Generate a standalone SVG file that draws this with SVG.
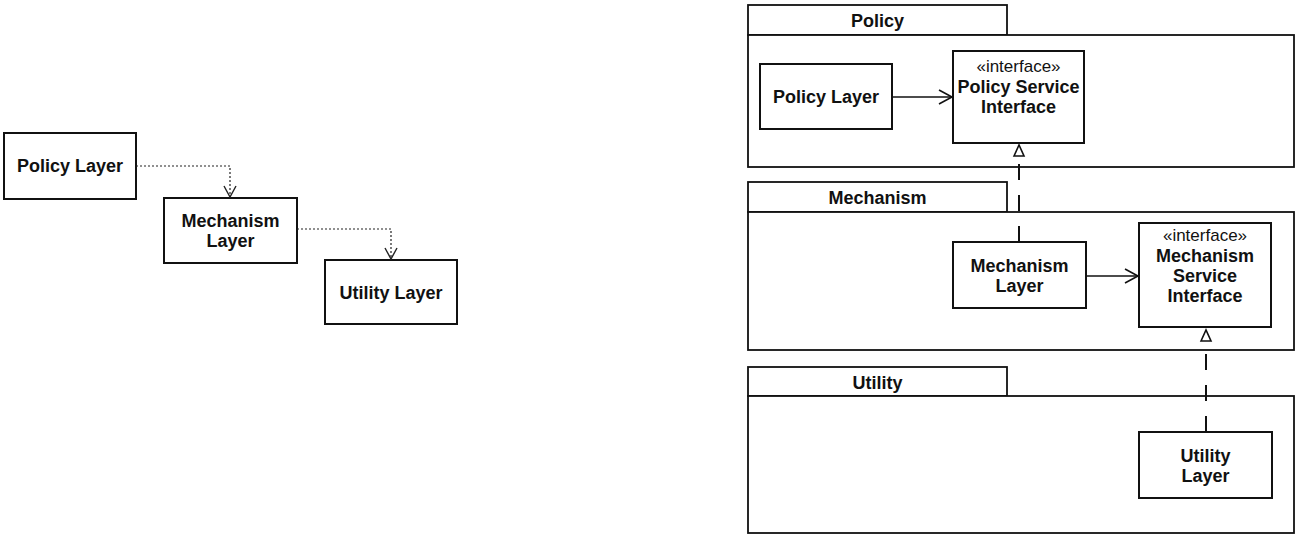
<svg xmlns="http://www.w3.org/2000/svg" width="1302" height="538" viewBox="0 0 1302 538">
<style>
  .box { fill: #fff; stroke: #111; stroke-width: 2; }
  .pkg { fill: #fff; stroke: #111; stroke-width: 1.8; }
  .t { font-family: "Liberation Sans", Arial, Helvetica, sans-serif; font-size: 18px; font-weight: bold; fill: #111; text-anchor: middle; }
  .st { font-family: "Liberation Sans", Arial, Helvetica, sans-serif; font-size: 17px; font-weight: normal; fill: #111; text-anchor: middle; }
  .dot { fill: none; stroke: #222; stroke-width: 1.2; stroke-dasharray: 2 2; }
  .solid { fill: none; stroke: #111; stroke-width: 1.6; }
  .dash { fill: none; stroke: #111; stroke-width: 2; stroke-dasharray: 16 15; }
</style>
<defs>
  <marker id="openV" markerUnits="userSpaceOnUse" viewBox="-12 -7 14 14" refX="0" refY="0" markerWidth="14" markerHeight="14" orient="auto">
    <path d="M-11,-6 L0,0 L-11,6" fill="none" stroke="#222" stroke-width="1.4"/>
  </marker>
  <marker id="openVs" markerUnits="userSpaceOnUse" viewBox="-14 -8 16 16" refX="0" refY="0" markerWidth="16" markerHeight="16" orient="auto">
    <path d="M-13,-7 L0,0 L-13,7" fill="none" stroke="#111" stroke-width="1.6"/>
  </marker>
  <marker id="tri" markerUnits="userSpaceOnUse" viewBox="-2 -7 16 14" refX="0" refY="0" markerWidth="16" markerHeight="14" orient="auto">
    <path d="M0,-5 L11,0 L0,5 Z" fill="#fff" stroke="#111" stroke-width="1.6"/>
  </marker>
</defs>
<rect width="1302" height="538" fill="#fff"/>

<!-- Left diagram -->
<g id="left-policy-layer">
  <rect class="box" x="4" y="133" width="132" height="66"/>
  <text class="t" x="70" y="172">Policy Layer</text>
</g>
<g id="left-mechanism-layer">
  <rect class="box" x="164" y="198" width="133" height="65"/>
  <text class="t" x="230.5" y="227">Mechanism</text>
  <text class="t" x="230.5" y="247">Layer</text>
</g>
<g id="left-utility-layer">
  <rect class="box" x="325" y="260" width="132" height="64"/>
  <text class="t" x="391" y="299">Utility Layer</text>
</g>

<!-- Right diagram: packages -->
<g id="pkg-policy">
  <rect class="pkg" x="748" y="5" width="259" height="30"/>
  <rect class="pkg" x="748" y="35" width="546" height="132"/>
  <text class="t" x="877.5" y="27">Policy</text>
</g>
<g id="pkg-mechanism">
  <rect class="pkg" x="748" y="182" width="259" height="30"/>
  <rect class="pkg" x="748" y="212" width="546" height="138"/>
  <text class="t" x="877.5" y="204">Mechanism</text>
</g>
<g id="pkg-utility">
  <rect class="pkg" x="748" y="367" width="259" height="29"/>
  <rect class="pkg" x="748" y="396" width="546" height="137"/>
  <text class="t" x="877.5" y="389">Utility</text>
</g>

<!-- Right diagram: classes -->
<g id="policy-layer">
  <rect class="box" x="760" y="64" width="132" height="65"/>
  <text class="t" x="826" y="103">Policy Layer</text>
</g>
<g id="policy-service-interface">
  <rect class="box" x="953" y="51" width="131" height="92"/>
  <text class="st" x="1018.5" y="72">«interface»</text>
  <text class="t" x="1018.5" y="93">Policy Service</text>
  <text class="t" x="1018.5" y="113">Interface</text>
</g>
<g id="mechanism-layer">
  <rect class="box" x="953" y="242" width="133" height="66"/>
  <text class="t" x="1019.5" y="272">Mechanism</text>
  <text class="t" x="1019.5" y="292">Layer</text>
</g>
<g id="mechanism-service-interface">
  <rect class="box" x="1139" y="223" width="132" height="104"/>
  <text class="st" x="1205" y="241">«interface»</text>
  <text class="t" x="1205" y="262">Mechanism</text>
  <text class="t" x="1205" y="282">Service</text>
  <text class="t" x="1205" y="302">Interface</text>
</g>
<g id="utility-layer">
  <rect class="box" x="1139" y="432" width="133" height="66"/>
  <text class="t" x="1205.5" y="462">Utility</text>
  <text class="t" x="1205.5" y="482">Layer</text>
</g>

<!-- Connectors -->
<g id="connectors">
  <path class="dot" d="M136,166 H230 V197" marker-end="url(#openV)"/>
  <path class="dot" d="M297,229 H391 V259" marker-end="url(#openV)"/>
  <path class="solid" d="M892,97 H952" marker-end="url(#openVs)"/>
  <path class="solid" d="M1086,276 H1138" marker-end="url(#openVs)"/>
  <path class="dash" d="M1019,242 V156" marker-end="url(#tri)"/>
  <path class="dash" d="M1206,432 V341" marker-end="url(#tri)"/>
</g>
</svg>
